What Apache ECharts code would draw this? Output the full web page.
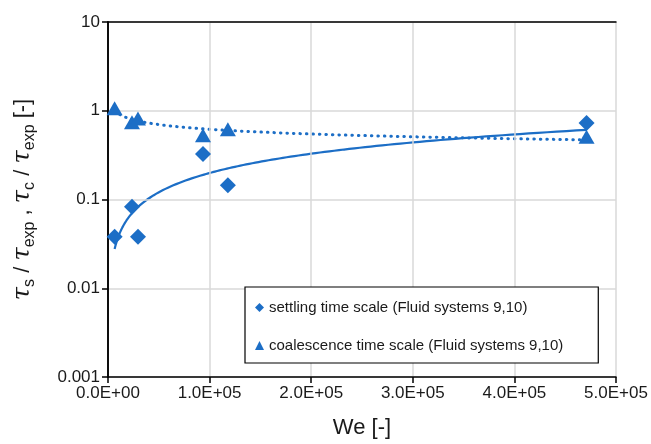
<!DOCTYPE html>
<html>
<head>
<meta charset="utf-8">
<script src="https://cdn.jsdelivr.net/npm/echarts@6/dist/echarts.min.js"></script>
<style>html,body{margin:0;padding:0;background:#fff;}#c{width:651px;height:444px;}</style>
</head>
<body>
<div id="c"></div>
<script>
// Data
const weValues = [6500, 23600, 29500, 93500, 118000, 471000];
const settlingValues = [0.038, 0.083, 0.038, 0.325, 0.145, 0.73];
const coalescenceValues = [1.07, 0.74, 0.82, 0.53, 0.62, 0.51];
const xTicks = [0, 100000, 200000, 300000, 400000, 500000];
const yTicks = [0.001, 0.01, 0.1, 1, 10];
const seriesNames = ['settling time scale (Fluid systems 9,10)', 'coalescence time scale (Fluid systems 9,10)'];

const BLUE = '#1c6ec6';

// Power-law trend (least squares on log-log), as Excel's power trendline
function powerFit(xs, ys) {
  const lx = xs.map(Math.log), ly = ys.map(Math.log);
  const n = xs.length;
  const mx = lx.reduce((a, b) => a + b, 0) / n;
  const my = ly.reduce((a, b) => a + b, 0) / n;
  let sxy = 0, sxx = 0;
  for (let i = 0; i < n; i++) { sxy += (lx[i] - mx) * (ly[i] - my); sxx += (lx[i] - mx) ** 2; }
  const b = sxy / sxx;
  const a = Math.exp(my - b * mx);
  const xmin = Math.min(...xs), xmax = Math.max(...xs);
  const pts = [];
  const N = 200;
  for (let i = 0; i <= N; i++) {
    const x = Math.exp(Math.log(xmin) + (Math.log(xmax) - Math.log(xmin)) * i / N);
    pts.push([x, a * Math.pow(x, b)]);
  }
  return pts;
}

function fmtE(v) {
  if (v === 0) return '0.0E+00';
  const e = Math.floor(Math.log10(Math.abs(v)) + 1e-9);
  const m = v / Math.pow(10, e);
  return m.toFixed(1) + 'E' + (e >= 0 ? '+' : '-') + String(Math.abs(e)).padStart(2, '0');
}

const chart = echarts.init(document.getElementById('c'), null, {renderer: 'canvas'});
const FONT = 'Liberation Sans, Arial, sans-serif';
const TXT = '#1a1a1a';
const frameAxis = { show: true, lineStyle: { color: '#000', width: 1.5 } };

chart.setOption({
  animation: false,
  backgroundColor: '#fff',
  grid: { left: 108, right: 35, top: 22, bottom: 67 },
  legend: {
    data: seriesNames,
    orient: 'vertical',
    left: 245, top: 287,
    padding: [13, 35, 10, 10],
    itemGap: 23,
    itemWidth: 9, itemHeight: 9,
    backgroundColor: '#fff',
    borderColor: '#000', borderWidth: 1.2,
    borderRadius: 0,
    textStyle: { fontFamily: FONT, fontSize: 15, color: TXT }
  },
  xAxis: [{
    type: 'value', min: xTicks[0], max: xTicks[xTicks.length - 1], interval: 100000,
    name: 'We [-]', nameLocation: 'middle', nameGap: 40,
    nameTextStyle: { fontFamily: FONT, fontSize: 22, color: TXT },
    axisLine: frameAxis,
    axisTick: { show: true, inside: false, length: 6, lineStyle: { color: '#000', width: 1.5 } },
    axisLabel: { fontFamily: FONT, fontSize: 17, color: TXT, margin: 8, formatter: v => fmtE(v) },
    splitLine: { show: true, lineStyle: { color: '#d9d9d9', width: 1.5 } },
    z: 3
  }, {
    type: 'value', position: 'top', min: xTicks[0], max: xTicks[xTicks.length - 1], interval: 100000,
    axisLine: frameAxis, axisTick: { show: false }, axisLabel: { show: false }, splitLine: { show: false }, z: 3
  }],
  yAxis: [{
    type: 'log', logBase: 10, min: yTicks[0], max: yTicks[yTicks.length - 1],
    name: '{t|τ}{sub|s}{n| / }{t|τ}{sub|exp}{n| , }{t|τ}{sub|c}{n| / }{t|τ}{sub|exp}{n| [-]}',
    nameLocation: 'middle', nameGap: 70, nameRotate: 90,
    nameTextStyle: {
      color: TXT,
      rich: {
        t: { fontFamily: 'DejaVu Serif', fontStyle: 'italic', fontSize: 24, color: TXT, lineHeight: 30, verticalAlign: 'middle' },
        sub: { fontFamily: FONT, fontSize: 16, color: TXT, lineHeight: 16, verticalAlign: 'bottom' },
        n: { fontFamily: FONT, fontSize: 22, color: TXT, lineHeight: 30, verticalAlign: 'middle' }
      }
    },
    axisLine: frameAxis,
    axisTick: { show: true, inside: false, length: 6, lineStyle: { color: '#000', width: 1.5 } },
    minorTick: { show: false },
    axisLabel: { fontFamily: FONT, fontSize: 17, color: TXT, margin: 8, formatter: v => String(+v.toPrecision(3)) },
    splitLine: { show: true, lineStyle: { color: '#d9d9d9', width: 1.5 } },
    z: 3
  }, {
    type: 'log', logBase: 10, position: 'right', min: yTicks[0], max: yTicks[yTicks.length - 1],
    axisLine: frameAxis, axisTick: { show: false }, axisLabel: { show: false }, splitLine: { show: false }, z: 3
  }],
  series: [
    {
      name: 'settlingTrend', type: 'line', showSymbol: false, symbol: 'none', z: 2,
      data: powerFit(weValues, settlingValues),
      lineStyle: { color: BLUE, width: 2.2 }, silent: true
    },
    {
      name: 'coalTrend', type: 'line', showSymbol: false, symbol: 'none', z: 2,
      data: powerFit(weValues, coalescenceValues),
      lineStyle: { color: BLUE, width: 3, type: [0.5, 6], cap: 'round' }, silent: true
    },
    {
      name: seriesNames[0], type: 'scatter', symbol: 'diamond', symbolSize: [16, 16], z: 5,
      itemStyle: { color: BLUE, opacity: 1 },
      data: weValues.map((x, i) => [x, settlingValues[i]])
    },
    {
      name: seriesNames[1], type: 'scatter', symbol: 'triangle', symbolSize: [16, 14], z: 5,
      itemStyle: { color: BLUE, opacity: 1 },
      data: weValues.map((x, i) => [x, coalescenceValues[i]])
    }
  ]
});
</script>
</body>
</html>
